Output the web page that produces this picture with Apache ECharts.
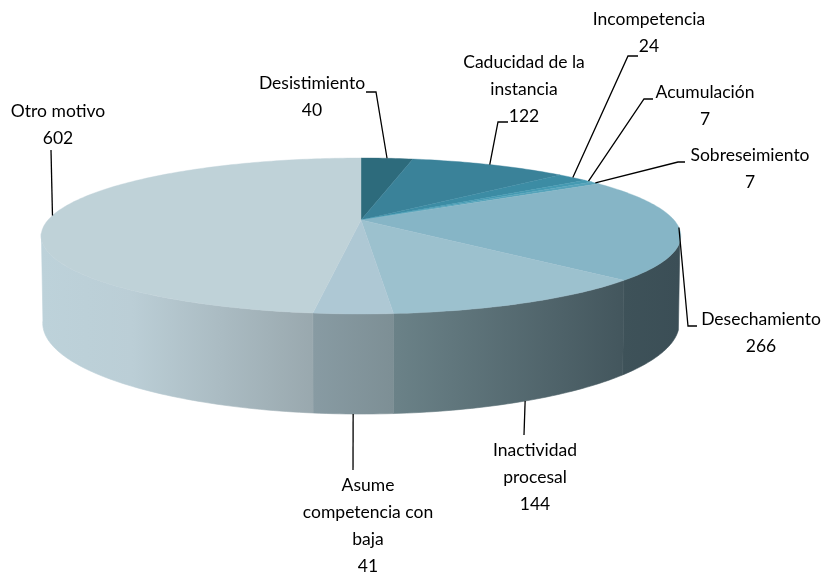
<!DOCTYPE html>
<html>
<head>
<meta charset="utf-8">
<style>
html, body { margin: 0; padding: 0; background: #fff; }
#main { width: 823px; height: 574px; }
</style>
<script src="https://cdn.jsdelivr.net/npm/echarts@6/dist/echarts.min.js"></script>
</head>
<body>
<div id="main"></div>
<script>
// data, clockwise from 12 o'clock
var categories = ['Desistimiento', 'Caducidad de la\ninstancia', 'Incompetencia', 'Acumulación', 'Sobreseimiento',
    'Desechamiento', 'Inactividad\nprocesal', 'Asume\ncompetencia con\nbaja', 'Otro motivo'];
var values = [40, 122, 24, 7, 7, 266, 144, 41, 602];

// colours of the top face
var faceColors = ['#2d6b7c', '#3a8299', '#3c8ca4', '#459ab2', '#55a3ba', '#86b5c6', '#9cc1ce', '#aec8d4', '#bfd2d8'];
// colours of the side wall, left to right (only the front slices show)
var wallColors = [null, null, null, null, null,
    ['#3e5259', '#3b4e56'], ['#6b8288', '#43565d'], ['#889ba3', '#7d8f95'], ['#bdd2da', '#bbced6', '#aabbc2', '#99a8ae']];

// label block top centre + where the leader line bends
var labelPos = [[312, 70], [524, 49], [649, 6], [705, 79], [750, 142], [761, 306], [535, 437], [368, 472], [58, 98]];
var leaderBends = [
    [[376, 92], [366, 92]],
    [[498, 122], [508, 122]],
    [[628, 56], [638, 56]],
    [[644, 99], [653, 99]],
    [[678, 162], [685, 162]],
    [[688, 326], [697, 326]],
    [[524, 435]],
    [[353, 470]],
    [[51, 150]]
];

var total = 0;
var cums = [0];
for (var i = 0; i < values.length; i++) {
    total += values[i];
    cums.push(total);
}

// perspective ellipses of the top and the bottom of the disc
var topDisc = {cx: 361, cy: 220, rx: 313, ry: 74.7};
var bottomDisc = {cx: 361, cy: 304.6, rx: 311.5, ry: 87};
var persp = 0.205;
// part of the rim which faces the viewer
var wallFrom = 106, wallTo = 260;

function angleOf(v) {
    return echarts.number.linearMap(v, [0, total], [0, 360]);
}

function project(disc, deg) {
    var a = deg * Math.PI / 180;
    var v = -Math.cos(a);
    var d = 1 - persp * v;
    return [disc.cx + disc.rx * Math.sin(a) / d, disc.cy + disc.ry * v / d];
}

function arc(disc, from, to) {
    var pts = [];
    var n = Math.max(2, Math.ceil(Math.abs(to - from)));
    for (var i = 0; i <= n; i++) {
        pts.push(project(disc, from + (to - from) * i / n));
    }
    return pts;
}

function renderWall(params, api) {
    var i = params.dataIndex;
    var from = Math.max(angleOf(cums[i]), wallFrom);
    var to = Math.min(angleOf(cums[i] + api.value(0)), wallTo);
    if (to <= from || !wallColors[i]) {
        return;
    }
    var stops = wallColors[i].map(function (c, k, arr) {
        return {offset: k / (arr.length - 1), color: c};
    });
    var pts = arc(topDisc, from, to).concat(arc(bottomDisc, to, from));
    var fill = new echarts.graphic.LinearGradient(0, 0, 1, 0, stops);
    return {
        type: 'polygon',
        shape: {points: pts},
        style: {fill: fill, stroke: fill, lineWidth: 0.6}
    };
}

function renderFace(params, api) {
    var i = params.dataIndex;
    var from = angleOf(cums[i]);
    var to = angleOf(cums[i] + api.value(0));
    var pts = [[topDisc.cx, topDisc.cy]].concat(arc(topDisc, from, to));
    return {
        type: 'polygon',
        shape: {points: pts},
        style: {fill: faceColors[i], stroke: faceColors[i], lineWidth: 0.4}
    };
}

function renderLabel(params, api) {
    var i = params.dataIndex;
    var mid = angleOf(cums[i] + api.value(0) / 2);
    // front slices hang their leader from the bottom rim
    var start = (mid > 140 && mid < 220) ? project(bottomDisc, mid) : project(topDisc, mid);
    return {
        type: 'group',
        children: [{
            type: 'polyline',
            shape: {points: [start].concat(leaderBends[i])},
            style: {stroke: '#000', lineWidth: 1.3, fill: null}
        }, {
            type: 'text',
            x: labelPos[i][0],
            y: labelPos[i][1],
            style: {
                text: categories[i] + '\n' + api.value(0),
                align: 'center',
                verticalAlign: 'top',
                lineHeight: 27,
                fontSize: 17.5,
                fontFamily: 'Lato',
                fill: '#000'
            }
        }]
    };
}

var chart = echarts.init(document.getElementById('main'), null, {renderer: 'canvas'});

var option = {
    backgroundColor: '#fff',
    animation: false,
    series: [
        {type: 'custom', coordinateSystem: 'none', z: 1, silent: true, data: values, renderItem: renderWall},
        {type: 'custom', coordinateSystem: 'none', z: 2, silent: true, data: values, renderItem: renderFace},
        {type: 'custom', coordinateSystem: 'none', z: 3, silent: true, data: values, renderItem: renderLabel}
    ]
};

chart.setOption(option);
</script>
</body>
</html>
